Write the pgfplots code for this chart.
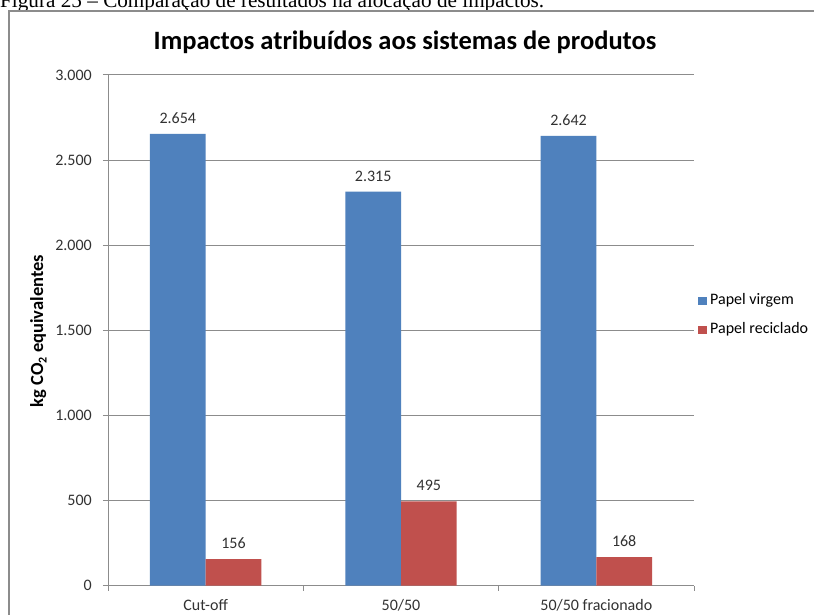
\documentclass[border=0pt]{standalone}
\usepackage{fontspec}
\setmainfont{Carlito}
\newfontfamily\capfont{Liberation Serif}
\usepackage{pgfplots}
\pgfplotsset{compat=1.18}
\definecolor{cblue}{RGB}{79,129,189}
\definecolor{cred}{RGB}{192,80,77}
\definecolor{cgrid}{RGB}{140,140,140}
\definecolor{ctext}{RGB}{50,50,50}
\begin{document}
\begin{tikzpicture}[x=1pt,y=1pt]
\useasboundingbox (0,0) rectangle (814,614);
\fill[white] (0,0) rectangle (814,614);
\node[anchor=base west, inner sep=0pt, font=\capfont\fontsize{21.2}{24}\selectfont] at (0,606.5) {Figura 25 – Comparação de resultados na alocação de impactos.};
\draw[cgrid, line width=1.2pt] (9,-10) -- (9,603) -- (830,603);
\node[anchor=base, inner sep=0pt, font=\bfseries\fontsize{26.5}{30}\selectfont] at (405,564) {Impactos atribuídos aos sistemas de produtos};
\node[rotate=90, anchor=base, inner sep=0pt, font=\bfseries\fontsize{18.5}{22}\selectfont] at (43,283) {kg CO\raisebox{-3.5pt}{\fontsize{12}{12}\selectfont 2} equivalentes};
\begin{axis}[
  at={(108pt,28.3pt)}, anchor=south west,
  width=586pt, height=510.7pt, scale only axis,
  ymin=0, ymax=3000, xmin=-0.5, xmax=2.5,
  ybar=0pt, bar width=0.285,
  axis lines*=left,
  axis line style={cgrid, line width=1pt},
  ymajorgrids, major grid style={cgrid, line width=1pt},
  ytick={0,500,...,3000},
  xtick={0,1,2}, xticklabels={Cut-off,50/50,50/50 fracionado},
  minor xtick={-0.5,0.5,1.5,2.5},
  major x tick style={draw=none},
  tick style={cgrid, line width=1pt},
  tick align=outside, major tick length=5pt, minor tick length=5pt,
  scaled y ticks=false,
  /pgf/number format/.cd, 1000 sep={.}, fixed, precision=0, assume math mode=true,
  /pgfplots/.cd,
  ticklabel style={font=\fontsize{16}{19}\selectfont, text=ctext},
  yticklabel style={anchor=east, inner sep=0pt, xshift=-11pt},
  xticklabel style={anchor=base, inner sep=0pt, yshift=-20pt},
  nodes near coords,
  nodes near coords style={anchor=base, inner sep=0pt, yshift=10.5pt, font=\fontsize{16}{19}\selectfont, text=ctext},
  legend style={at={(1.0068,0.529)}, anchor=west, draw=none, fill=none, inner sep=0pt,
    font=\fontsize{16}{19}\selectfont, row sep=14pt, column sep=3pt,
    nodes={inner sep=0pt, text height=11pt, text depth=4pt}},
  legend cell align=left,
  legend image code/.code={\fill[#1] (0pt,-4pt) rectangle (9pt,4pt);},
]
\addplot[fill=cblue, draw=none] coordinates {(0,2654) (1,2315) (2,2642)};
\addplot[fill=cred, draw=none] coordinates {(0,156) (1,495) (2,168)};
\legend{Papel virgem, Papel reciclado}
\end{axis}
\end{tikzpicture}
\end{document}
